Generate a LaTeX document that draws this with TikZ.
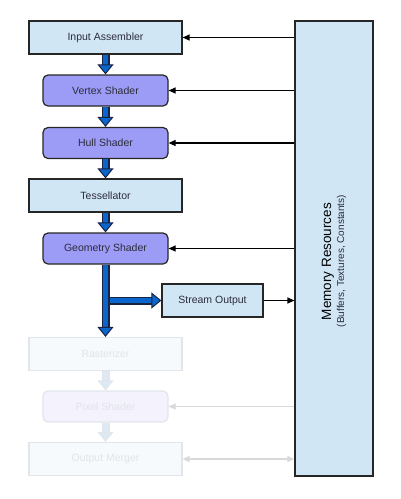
\documentclass[tikz,border=0pt]{standalone}
\usepackage{fontspec}
\setmainfont{Liberation Sans}
\usepackage{tikz}
\usetikzlibrary{arrows.meta}
\definecolor{stageblue}{HTML}{D1E6F5}
\definecolor{shaderpurple}{HTML}{9C9CF7}
\definecolor{edgegray}{HTML}{262626}
\definecolor{labelgray}{HTML}{2B2B3A}
\definecolor{pipeblue}{HTML}{0A66CC}
\definecolor{pipeedge}{HTML}{1A2340}
\definecolor{fadefill}{HTML}{F7FAFD}
\definecolor{fadeshader}{HTML}{F3F2FD}
\definecolor{fadeline}{HTML}{E2E6EA}
\definecolor{fadetext}{HTML}{E1E4E8}
\definecolor{fadepipe}{HTML}{DCEAF5}
\definecolor{fadearrow}{HTML}{D9D9D9}
\tikzset{
  stage/.style={
    draw=edgegray, line width=1.2pt, fill=stageblue, text=labelgray,
    minimum width=153pt, minimum height=33pt, inner sep=0pt,
    font=\fontsize{10.5}{12}\selectfont
  },
  shader/.style={
    stage, fill=shaderpurple, rounded corners=5pt,
    minimum width=125pt, minimum height=31pt
  },
  faded/.style={draw=fadeline, fill=fadefill, text=fadetext},
  pipe/.style={
    draw=pipeblue, line width=5.5pt,
    -{Triangle[width=16pt,length=10pt,color=pipeedge,fill=pipeblue,line width=1pt]},
    preaction={draw=pipeedge, line width=8pt, arrows=-, shorten >=9pt}
  },
  fadedpipe/.style={
    draw=fadepipe, line width=5.5pt,
    -{Triangle[width=16pt,length=10pt,color=fadeline,fill=fadepipe,line width=1pt]},
    preaction={draw=fadeline, line width=8pt, arrows=-, shorten >=9pt}
  },
  memarrow/.style={draw=black, line width=1.2pt, -{Triangle[width=6pt,length=7pt]}},
  fadedarrow/.style={draw=fadearrow, line width=1.2pt, -{Triangle[width=6pt,length=7pt]}}
}
\begin{document}
\begin{tikzpicture}[x=1pt,y=-1pt]
  \useasboundingbox (0,0) rectangle (400,499);

  % pipeline stages
  \node[stage]  (ia) at (105.5,37.5)  {Input Assembler};
  \node[shader] (vs) at (105.5,90.5)  {Vertex Shader};
  \node[shader] (hs) at (105.5,143)   {Hull Shader};
  \node[stage]  (ts) at (105.5,195.5) {Tessellator};
  \node[shader] (gs) at (105.5,248.5) {Geometry Shader};
  \node[stage, minimum width=101pt] (so) at (212.5,300.5) {Stream Output};
  \node[stage, faded]  (rs) at (105.5,354) {Rasterizer};
  \node[shader, faded, fill=fadeshader] (ps) at (105.5,406.5) {Pixel Shader};
  \node[stage, faded]  (om) at (105.5,459) {Output Merger};

  % memory block
  \node[stage, minimum width=78pt, minimum height=455pt] (mem) at (334,248.5) {};
  \node[rotate=90, text=black, font=\fontsize{13.5}{15}\selectfont] (memtitle) at (328,261.7) {Memory Resources};
  \node[rotate=90, text=labelgray, font=\fontsize{10}{12}\selectfont] (memsub) at (341.5,261) {(Buffers, Textures, Constants)};

  % data flow
  \draw[pipe] (ia.south) -- (vs.north);
  \draw[pipe] (vs.south) -- (hs.north);
  \draw[pipe] (hs.south) -- (ts.north);
  \draw[pipe] (ts.south) -- (gs.north);
  \coordinate (split) at ([xshift=3pt]gs.south |- so.west);
  \draw[pipe] (split) -- (so.west);
  \draw[pipe] (gs.south) -- (rs.north);
  \draw[fadedpipe] (rs.south) -- (ps.north);
  \draw[fadedpipe] (ps.south) -- (om.north);

  % memory access
  \draw[memarrow] (ia.east -| mem.west) -- (ia.east);
  \draw[memarrow] (vs.east -| mem.west) -- (vs.east);
  \draw[memarrow] (hs.east -| mem.west) -- (hs.east);
  \draw[memarrow] (gs.east -| mem.west) -- (gs.east);
  \draw[memarrow] (so.east) -- (so.east -| mem.west);
  \draw[fadedarrow] (ps.east -| mem.west) -- (ps.east);
  \draw[fadedarrow, {Triangle[width=6pt,length=7pt]}-{Triangle[width=6pt,length=7pt]}] (om.east) -- (om.east -| mem.west);
\end{tikzpicture}
\end{document}
